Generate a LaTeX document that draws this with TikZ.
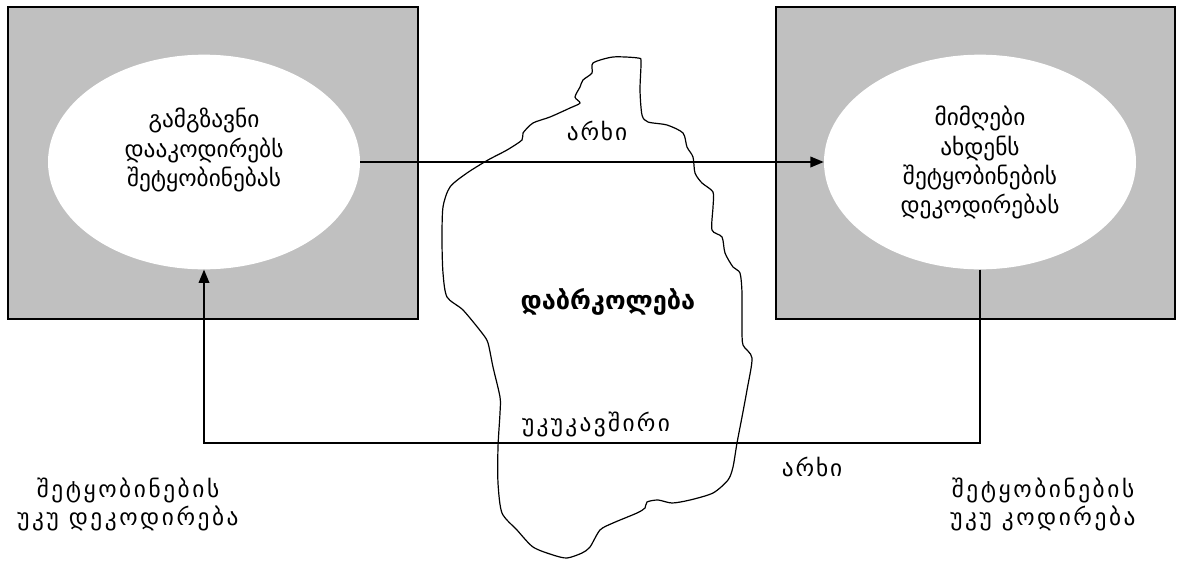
\documentclass[tikz,border=0pt]{standalone}
\usepackage{fontspec}
\setmainfont{DejaVu Sans}
\usepackage{tikz}
\usetikzlibrary{arrows.meta,shapes.geometric,positioning,calc}
\usepackage{xcolor}
\definecolor{panelgray}{RGB}{192,192,192}
\definecolor{inkcol}{RGB}{0,0,0}
\tikzset{
  % grey party box
  panel/.style={rectangle, draw=inkcol, fill=panelgray, line width=1.1pt,
                minimum width=#1, minimum height=234pt, inner sep=0pt},
  panel/.default={300pt},
  % white ellipse of a party
  role/.style={ellipse, fill=white, minimum width=234pt, minimum height=161pt,
               inner sep=0pt},
  % text written in an ellipse
  roletext/.style={align=center, inner sep=0pt, anchor=north,
                   font=\fontsize{17.5}{22}\selectfont},
  % channel / feedback connector
  conn/.style={draw=inkcol, line width=1.1pt},
  % filled arrow head
  tip/.style={-{Triangle[length=10pt,width=8pt]}},
  % free text label
  lbl/.style={align=center, inner sep=0pt, font=\fontsize{17.5}{21}\selectfont},
  % spaced caption under a box
  caption/.style={lbl, font=\fontsize{17.5}{21}\selectfont\addfontfeature{LetterSpace=11}},
  % obstacle outline
  obstacle/.style={draw=inkcol, line width=0.9pt},
}
\begin{document}
\begin{tikzpicture}[x=0.75pt, y=-0.75pt]
  \useasboundingbox (0,0) rectangle (1182,561);
  % the two parties
  \node[panel=307.5pt] (txbox) at (213,163) {};
  \node[panel=299.25pt] (rxbox) at (975.5,163) {};
  \node[role] (txell) at (204,162) {};
  \node[role] (rxell) at (980,162) {};
  \node[roletext] (txrole) at (204,108) {გამგზავნი\\დააკოდირებს\\შეტყობინებას};
  \node[roletext] (rxrole) at (980,106) {მიმღები\\ახდენს\\შეტყობინების\\დეკოდირებას};
  % obstacle in the channel
  \draw[obstacle] plot[smooth cycle, tension=0.45] coordinates {
    (593,63) (613,57) (638,58) (641,62) (640,90) (642,115) (648,122)
    (667,125) (683,133) (687,147) (693,157) (695,173) (702,183) (713,192)
    (713,207) (712,230) (722,237) (725,253) (733,267) (740,273) (742,293)
    (742,327) (743,345) (752,358) (747,390) (742,417) (737,443) (733,467)
    (728,480) (713,493) (690,500) (672,503) (658,500) (647,502) (645,508)
    (637,513) (613,523) (600,530) (590,547) (582,553) (567,558) (553,555)
    (533,547) (517,530) (502,513) (498,483) (498,447) (500,413) (500,397)
    (493,367) (488,343) (482,333) (463,310) (447,297) (443,273) (442,240)
    (443,207) (450,187) (467,173) (488,160) (507,150) (522,140) (523,133)
    (533,123) (550,117) (570,108) (580,103) (575,97) (580,87) (583,80)
    (592,73)};
  \node[lbl] (chtop) at (597,131) {\addfontfeature{LetterSpace=8}არხი};
  \node[lbl, font=\fontsize{19}{22}\selectfont\bfseries] (noise) at (608,302) {დაბრკოლება};
  \node[lbl] (fbtxt) at (596,424) {\addfontfeature{LetterSpace=10}უკუკავშირი};
  \node[lbl] (chbot) at (812,467) {\addfontfeature{LetterSpace=8}არხი};
  % message path and feedback loop
  \draw[conn, tip] (txell.east) -- (rxell.west);
  \coordinate (fbrow) at (0,443);
  \draw[conn, tip] (rxell.south) -- (rxell.south |- fbrow) -| (txell.south);
  % side captions
  \node[caption] (deccap) at (128,504) {შეტყობინების\\უკუ დეკოდირება};
  \node[caption] (enccap) at (1043,504) {შეტყობინების\\უკუ კოდირება};
\end{tikzpicture}
\end{document}
